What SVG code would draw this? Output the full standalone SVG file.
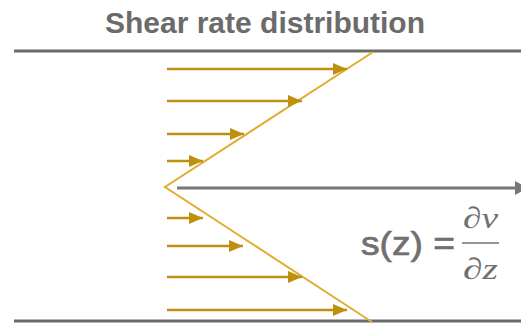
<svg xmlns="http://www.w3.org/2000/svg" width="521" height="329" viewBox="0 0 521 329">
  <style>
    .wall { stroke: #6a6a6a; stroke-width: 3; fill: none; }
    .axis { stroke: #777777; stroke-width: 3; fill: none; }
    .vel { stroke: #BF9010; stroke-width: 2.5; fill: none; marker-end: url(#ah); }
    .prof { stroke: #E0AE2E; stroke-width: 2; fill: none; }
    .title { font-family: "Liberation Sans", Arial, sans-serif; font-weight: bold; font-size: 30px; fill: #6b6b6b; }
    .eq { font-family: "Liberation Sans", Arial, sans-serif; font-size: 33px; fill: #707070; stroke: #707070; stroke-width: 0.7; }
    .frac { font-family: "Liberation Serif", "DejaVu Serif", serif; font-style: italic; font-size: 30px; fill: #707070; }
  </style>
  <defs>
    <marker id="ah" markerUnits="userSpaceOnUse" markerWidth="14" markerHeight="12" refX="14" refY="6" orient="auto">
      <polygon points="0,0 14,6 0,12" fill="#BF9010"/>
    </marker>
  </defs>
  <rect width="521" height="329" fill="#ffffff"/>
  <g id="title">
    <text class="title" x="265" y="33" text-anchor="middle">Shear rate distribution</text>
  </g>
  <g id="walls">
    <line class="wall" x1="14" y1="51" x2="521" y2="51"/>
    <line class="wall" x1="14" y1="321" x2="521" y2="321"/>
  </g>
  <g id="axis">
    <line class="axis" x1="177" y1="188" x2="516" y2="188"/>
    <polygon points="515,181 528,188 515,195" fill="#777777"/>
  </g>
  <g id="connectors">
    <polyline class="prof" points="373,52 165,187 372,322"/>
    <line class="vel" x1="167" y1="69" x2="347" y2="69"/>
    <line class="vel" x1="167" y1="101" x2="302" y2="101"/>
    <line class="vel" x1="167" y1="134" x2="244" y2="134"/>
    <line class="vel" x1="167" y1="161" x2="203" y2="161"/>
    <line class="vel" x1="167" y1="218" x2="203" y2="218"/>
    <line class="vel" x1="167" y1="246" x2="243" y2="246"/>
    <line class="vel" x1="167" y1="277" x2="302" y2="277"/>
    <line class="vel" x1="167" y1="310" x2="347" y2="310"/>
  </g>
  <g id="formula">
    <text class="eq" x="361" y="255" textLength="94" lengthAdjust="spacingAndGlyphs">s(z) =</text>
    <text class="frac" x="463" y="228" textLength="35" lengthAdjust="spacingAndGlyphs">∂v</text>
    <line x1="462" y1="243" x2="499" y2="243" stroke="#707070" stroke-width="1.5"/>
    <text class="frac" x="463" y="279" textLength="35" lengthAdjust="spacingAndGlyphs">∂z</text>
  </g>
</svg>
